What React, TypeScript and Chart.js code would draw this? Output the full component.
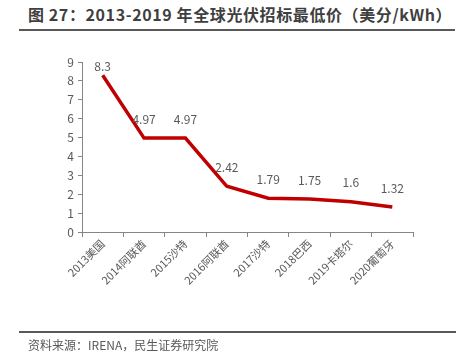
import React, { useEffect, useRef } from "react";
import { Chart, registerables } from "chart.js";

Chart.register(...registerables);

const categories = ["2013美国", "2014阿联酋", "2015沙特", "2016阿联酋", "2017沙特", "2018巴西", "2019卡塔尔", "2020葡萄牙"];
const prices = [8.3, 4.97, 4.97, 2.42, 1.79, 1.75, 1.6, 1.32];
const priceLabels = ["8.3", "4.97", "4.97", "2.42", "1.79", "1.75", "1.6", "1.32"];

const FONT = "'Noto Sans CJK SC', 'Noto Sans', sans-serif";

const labelPlugin = {
  id: "valueLabels",
  afterDatasetsDraw(chart: any) {
    const ctx = chart.ctx;
    const meta = chart.getDatasetMeta(0);
    ctx.save();
    ctx.font = `12px ${FONT}`;
    ctx.fillStyle = "#595959";
    ctx.textAlign = "center";
    ctx.textBaseline = "middle";
    meta.data.forEach((pt: any, i: number) => {
      const y = Math.max(pt.y - 19, chart.chartArea.top + 4);
      ctx.fillText(priceLabels[i], pt.x, y);
    });
    ctx.restore();
  },
};

export default function App() {
  const ref = useRef<HTMLCanvasElement>(null);
  useEffect(() => {
    if (!ref.current) return;
    const chart = new Chart(ref.current, {
      type: "line",
      data: {
        labels: categories,
        datasets: [
          {
            data: prices,
            borderColor: "#C00000",
            borderWidth: 3.5,
            pointRadius: 0,
            tension: 0,
            fill: false,
          },
        ],
      },
      options: {
        animation: false,
        responsive: false,
        maintainAspectRatio: false,
        layout: { padding: { left: 0, right: 54, top: 62, bottom: 0 } },
        plugins: { legend: { display: false }, tooltip: { enabled: false }, title: { display: false } },
        scales: {
          x: {
            type: "category",
            offset: true,
            afterFit: (s: any) => {
              s.height = 126;
            },
            grid: {
              offset: true,
              drawOnChartArea: false,
              drawTicks: true,
              tickLength: 5,
              color: "#868686",
            },
            border: { color: "#868686", width: 1 },
            ticks: {
              minRotation: 45,
              maxRotation: 45,
              autoSkip: false,
              color: "#595959",
              font: { family: FONT, size: 11 },
              padding: 0,
            },
          },
          y: {
            min: 0,
            max: 9,
            afterFit: (s: any) => {
              s.width = 82;
            },
            grid: {
              drawOnChartArea: false,
              drawTicks: true,
              tickLength: 4,
              color: "#868686",
            },
            border: { color: "#868686", width: 1 },
            ticks: {
              stepSize: 1,
              color: "#595959",
              font: { family: FONT, size: 12 },
              padding: 4,
            },
          },
        },
      },
      plugins: [labelPlugin],
    });
    return () => chart.destroy();
  }, []);

  return (
    <div style={{ position: "fixed", left: 0, top: 0, width: 467, height: 358, background: "#fff", overflow: "hidden" }}>
      <div
        style={{
          position: "absolute",
          left: 28,
          top: 3,
          fontFamily: FONT,
          fontWeight: "bold",
          fontSize: 16,
          letterSpacing: 0.6,
          color: "#3f3f3f",
          whiteSpace: "nowrap",
          lineHeight: "22px",
        }}
      >
        图 27：2013-2019 年全球光伏招标最低价（美分/kWh）
      </div>
      <div style={{ position: "absolute", left: 19, top: 29, width: 436, height: 2, background: "#595959" }} />
      <canvas ref={ref} width={467} height={358} style={{ position: "absolute", left: 0, top: 0 }} />
      <div style={{ position: "absolute", left: 19, top: 331, width: 437, height: 2, background: "#595959" }} />
      <div
        style={{
          position: "absolute",
          left: 28,
          top: 336,
          fontFamily: FONT,
          fontSize: 12,
          color: "#595959",
          whiteSpace: "nowrap",
          lineHeight: "18px",
        }}
      >
        资料来源：IRENA，民生证券研究院
      </div>
    </div>
  );
}
